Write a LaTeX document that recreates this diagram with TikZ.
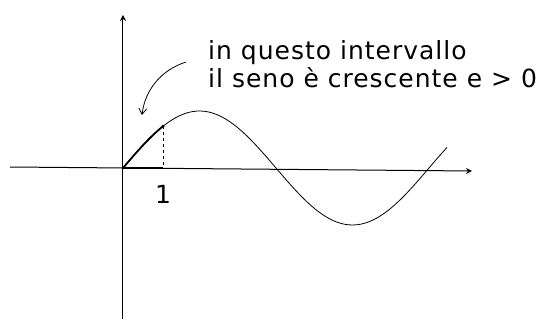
\documentclass[tikz,border=0pt]{standalone}
\usepackage{fontspec}
\newfontfamily\handfont{DejaVu Sans}[LetterSpace=4]
\usepackage{tikz}
\usetikzlibrary{arrows.meta,calc,positioning}

\begin{document}
\begin{tikzpicture}[x=1pt,y=1pt,
  axis/.style={-{Stealth[length=6pt,width=6pt]},line width=1pt},
  curve/.style={line width=0.8pt},
  hot/.style={line width=1.8pt},
  flow/.style={-{Straight Barb[length=6pt,width=8pt]},line width=0.8pt},
  lab/.style={font=\handfont\fontsize{25}{28}\selectfont,align=left,inner sep=0pt}
]
\useasboundingbox (-123,-153) rectangle (426,168);
% assi
\coordinate (O) at (0,0);
\coordinate (xl) at (-113,1);
\coordinate (xr) at (349,-3);
\coordinate (yb) at (0,-151);
\coordinate (yt) at (0,153);
\draw[axis] (xl) -- (xr);
\draw[axis] (yb) -- (yt);
% funzione seno
\draw[curve,domain=0:324,samples=80] plot (\x,{57*sin(\x/153*180)});
\draw[hot,domain=0:40,samples=20] plot (\x,{57*sin(\x/153*180)});
\draw[hot] (O) -- (40,0);
\coordinate (P) at (40,{57*sin(40/153*180)});
\fill (P) circle (1.6pt);
\fill (O) circle (1.4pt);
\draw[dashed,line width=0.8pt] (P) -- (40,0);
\node[lab] (one) at (40,-26) {1};
% commento
\node[lab,anchor=base west] (txt) at (85,80)
  {in questo intervallo\\il seno è crescente e > 0};
\coordinate (tail) at (63,106);
\coordinate (tip) at (19,53);
\draw[flow] (tail) .. controls (38,98) and (22,78) .. (tip);
\end{tikzpicture}
\end{document}
